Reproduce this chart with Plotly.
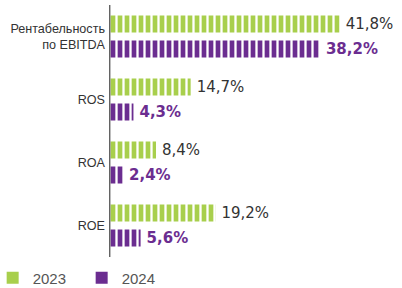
import plotly.graph_objects as go

categories = ["Рентабельность<br>по EBITDA", "ROS", "ROA", "ROE"]
values_2023 = [41.8, 14.7, 8.4, 19.2]
values_2024 = [38.2, 4.3, 2.4, 5.6]
labels_2023 = ["41,8%", "14,7%", "8,4%", "19,2%"]
labels_2024 = ["38,2%", "4,3%", "2,4%", "5,6%"]
series_names = ["2023", "2024"]

GREEN = "#a8cf4c"
PURPLE = "#6b2d90"
W, H = 402, 288
L, R, T, B = 106, 2, 5, 31
PX_PER_UNIT = 5.5
x0 = -3.8 / PX_PER_UNIT
x1 = x0 + (W - L - R) / PX_PER_UNIT

fig = go.Figure()

series = [
    (series_names[0], values_2023, labels_2023, GREEN,
     dict(family="DejaVu Sans", size=15, color="#333333"), "\u2009%{text}"),
    (series_names[1], values_2024, labels_2024, PURPLE,
     dict(family="DejaVu Sans", size=15, color=PURPLE, weight="bold"), "\u2009%{text}"),
]

for name, vals, labels, color, font, tmpl in series:
    fig.add_trace(go.Bar(
        y=categories, x=vals, orientation="h", name=name,
        text=labels, texttemplate=tmpl, textposition="outside", textfont=font,
        outsidetextfont=font,
        cliponaxis=False, constraintext="none",
        marker=dict(color=color, line=dict(width=0),
                    pattern=dict(shape="|", size=7, solidity=0.33,
                                 fgcolor="white", fgopacity=1, bgcolor=color)),
        showlegend=False, hoverinfo="skip",
    ))

for name, _, _, color, _, _ in series:
    fig.add_trace(go.Scatter(
        x=[None], y=[None], mode="markers", name=name,
        marker=dict(symbol="square", size=12, color=color),
        showlegend=True, hoverinfo="skip",
    ))

fig.add_shape(type="line", xref="x", yref="paper", x0=0, x1=0, y0=0, y1=1,
              line=dict(color="#222222", width=1), layer="above")

fig.update_layout(
    width=W, height=H,
    margin=dict(l=L, r=R, t=T, b=B, pad=0, autoexpand=False),
    paper_bgcolor="white", plot_bgcolor="white",
    barmode="group", bargap=0.206, bargroupgap=0.32,
    showlegend=True,
    legend=dict(orientation="h", x=-0.3855, xanchor="left", y=-0.083,
                yanchor="middle", entrywidth=44, entrywidthmode="pixels",
                font=dict(family="Liberation Sans", size=15, color="#555555"),
                bgcolor="rgba(0,0,0,0)"),
    xaxis=dict(range=[x0, x1], visible=False, fixedrange=True),
    yaxis=dict(autorange="reversed", showgrid=False, zeroline=False,
               showline=False, ticks="",
               tickfont=dict(family="Liberation Sans", size=12.6, color="#333333")),
)

fig.write_html("out.html")
